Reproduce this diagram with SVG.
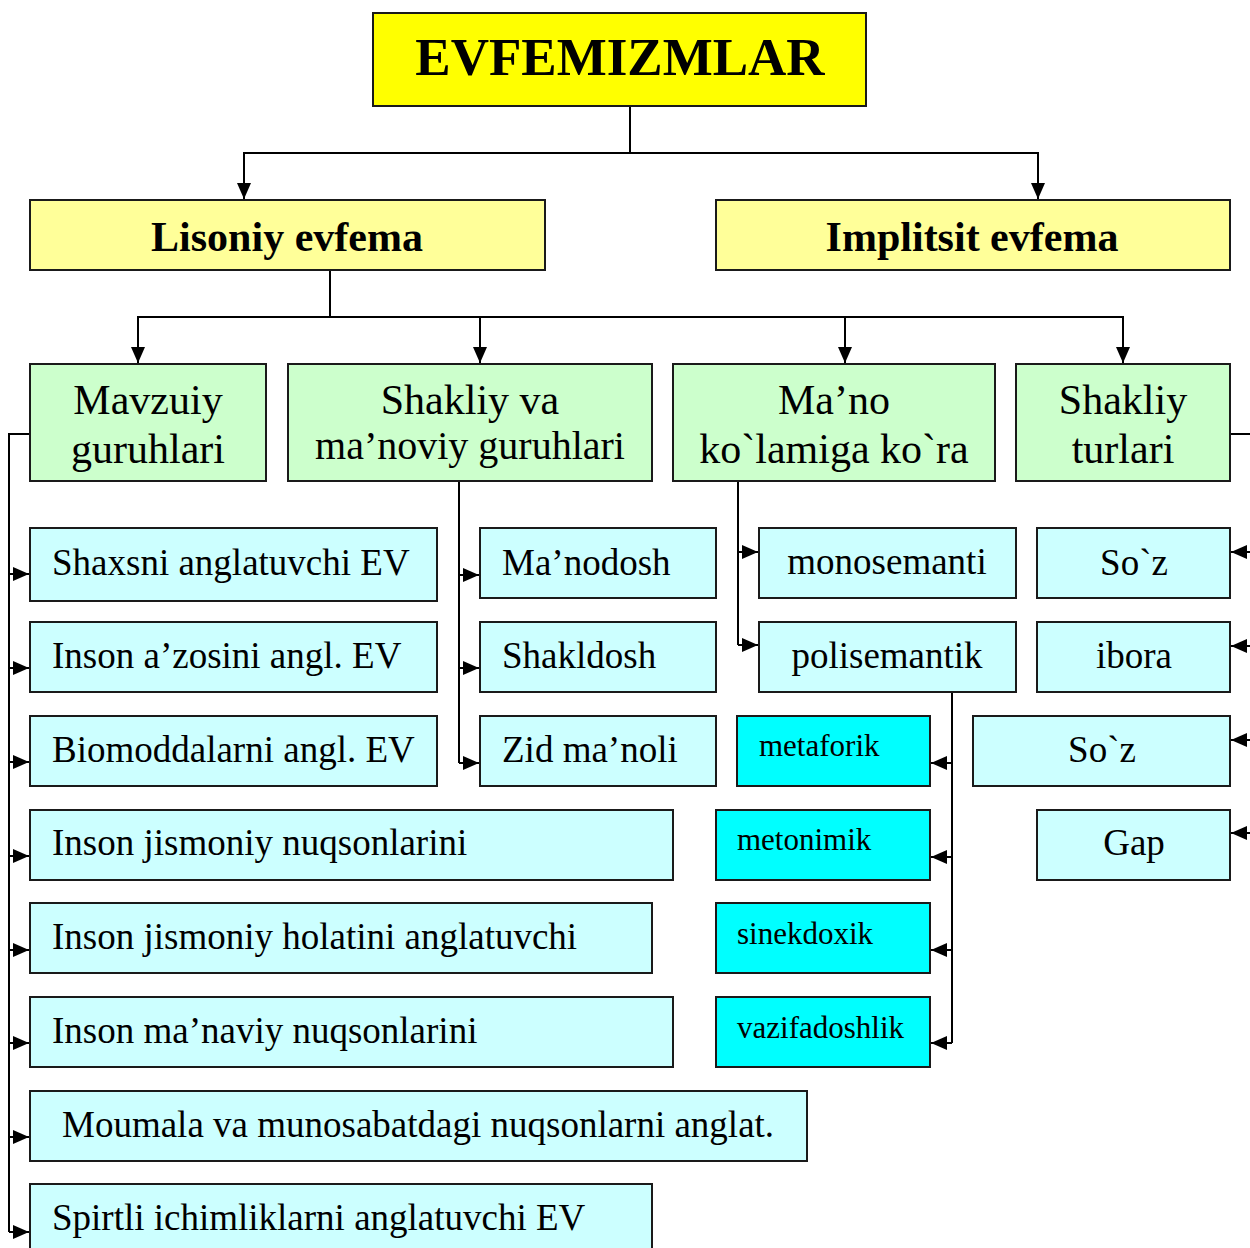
<svg xmlns="http://www.w3.org/2000/svg" width="1250" height="1248" viewBox="0 0 1250 1248">
<defs>
<marker id="ah" markerUnits="userSpaceOnUse" markerWidth="17" markerHeight="15" refX="16" refY="7.5" orient="auto">
<path d="M0,0.5 L16,7.5 L0,14.5 z" fill="#000"/>
</marker>
<style>
.b{stroke:#1a1a1a;stroke-width:2}
.y1{fill:#FFFF00}
.y2{fill:#FFFF99}
.g{fill:#CCFFCC}
.c{fill:#CCFFFF}
.d{fill:#00FFFF}
text{font-family:"Liberation Serif","Times New Roman",serif;fill:#000}
.tb{font-weight:bold}
.t0{font-size:53px;text-anchor:middle}
.t1{font-size:42px;text-anchor:middle}
.t2{font-size:42px;text-anchor:middle}
.t3{font-size:37px}
.t3m{font-size:37px;text-anchor:middle}
.t4{font-size:31px}
#conn path{fill:none;stroke:#000;stroke-width:2}
#conn .a{marker-end:url(#ah)}
</style>
</defs>
<rect x="0" y="0" width="1250" height="1248" fill="#ffffff"/>

<g id="conn">
<path d="M630,106 V153"/>
<path class="a" d="M630,153 H244 V199"/>
<path class="a" d="M630,153 H1038 V199"/>
<path d="M330,270 V317"/>
<path class="a" d="M330,317 H138 V363"/>
<path class="a" d="M330,317 H480 V363"/>
<path class="a" d="M330,317 H845 V363"/>
<path class="a" d="M845,317 H1123 V363"/>
<path d="M30,434 H9 V1232"/>
<path class="a" d="M9,574 H29"/>
<path class="a" d="M9,668 H29"/>
<path class="a" d="M9,762 H29"/>
<path class="a" d="M9,856 H29"/>
<path class="a" d="M9,950 H29"/>
<path class="a" d="M9,1043 H29"/>
<path class="a" d="M9,1137 H29"/>
<path class="a" d="M9,1232 H29"/>
<path d="M459,481 V763"/>
<path class="a" d="M459,575 H479"/>
<path class="a" d="M459,668 H479"/>
<path class="a" d="M459,763 H479"/>
<path d="M738,481 V645"/>
<path class="a" d="M738,552 H758"/>
<path class="a" d="M738,645 H758"/>
<path d="M952,692 V1043"/>
<path class="a" d="M952,763 H931"/>
<path class="a" d="M952,857 H931"/>
<path class="a" d="M952,950 H931"/>
<path class="a" d="M952,1043 H931"/>
<path d="M1230,434 H1250"/>
<path class="a" d="M1252,552 H1231"/>
<path class="a" d="M1252,646 H1231"/>
<path class="a" d="M1252,740 H1231"/>
<path class="a" d="M1252,833 H1231"/>
</g>

<g id="n-evfemizmlar"><rect class="b y1" x="373" y="13" width="493" height="93"/><text class="tb t0" x="620" y="75">EVFEMIZMLAR</text></g>
<g id="n-lisoniy"><rect class="b y2" x="30" y="200" width="515" height="70"/><text class="tb t1" x="287" y="251">Lisoniy evfema</text></g>
<g id="n-implitsit"><rect class="b y2" x="716" y="200" width="514" height="70"/><text class="tb t1" x="972" y="251">Implitsit evfema</text></g>

<g id="n-mavzuiy"><rect class="b g" x="30" y="364" width="236" height="117"/><text class="t2" x="148" y="414">Mavzuiy</text><text class="t2" x="148" y="463">guruhlari</text></g>
<g id="n-shakliyva"><rect class="b g" x="288" y="364" width="364" height="117"/><text class="t2" x="470" y="414">Shakliy va</text><text class="t2" x="470" y="459" style="font-size:40px">ma’noviy guruhlari</text></g>
<g id="n-mano"><rect class="b g" x="673" y="364" width="322" height="117"/><text class="t2" x="834" y="414">Ma’no</text><text class="t2" x="834" y="463">ko`lamiga ko`ra</text></g>
<g id="n-shakliyturlari"><rect class="b g" x="1016" y="364" width="214" height="117"/><text class="t2" x="1123" y="414">Shakliy</text><text class="t2" x="1123" y="463">turlari</text></g>

<g id="n-shaxsni"><rect class="b c" x="30" y="528" width="407" height="73"/><text class="t3" x="52" y="575">Shaxsni anglatuvchi EV</text></g>
<g id="n-azosini"><rect class="b c" x="30" y="622" width="407" height="70"/><text class="t3" x="52" y="668">Inson a’zosini angl. EV</text></g>
<g id="n-biomodda"><rect class="b c" x="30" y="716" width="407" height="70"/><text class="t3" x="52" y="762">Biomoddalarni angl. EV</text></g>
<g id="n-jismnuqson"><rect class="b c" x="30" y="810" width="643" height="70"/><text class="t3" x="52" y="855">Inson jismoniy nuqsonlarini</text></g>
<g id="n-jismholat"><rect class="b c" x="30" y="903" width="622" height="70"/><text class="t3" x="52" y="949">Inson jismoniy holatini anglatuvchi</text></g>
<g id="n-manaviy"><rect class="b c" x="30" y="997" width="643" height="70"/><text class="t3" x="52" y="1043">Inson ma’naviy nuqsonlarini</text></g>
<g id="n-moumala"><rect class="b c" x="30" y="1091" width="777" height="70"/><text class="t3" x="62" y="1137">Moumala va munosabatdagi nuqsonlarni anglat.</text></g>
<g id="n-spirtli"><rect class="b c" x="30" y="1184" width="622" height="80"/><text class="t3" x="52" y="1230">Spirtli ichimliklarni anglatuvchi EV</text></g>

<g id="n-manodosh"><rect class="b c" x="480" y="528" width="236" height="70"/><text class="t3" x="502" y="575">Ma’nodosh</text></g>
<g id="n-shakldosh"><rect class="b c" x="480" y="622" width="236" height="70"/><text class="t3" x="502" y="668">Shakldosh</text></g>
<g id="n-zid"><rect class="b c" x="480" y="716" width="236" height="70"/><text class="t3" x="502" y="762">Zid ma’noli</text></g>

<g id="n-monosemanti"><rect class="b c" x="759" y="528" width="257" height="70"/><text class="t3m" x="887" y="574">monosemanti</text></g>
<g id="n-polisemantik"><rect class="b c" x="759" y="622" width="257" height="70"/><text class="t3m" x="887" y="668">polisemantik</text></g>

<g id="n-metaforik"><rect class="b d" x="737" y="716" width="193" height="70"/><text class="t4" x="759" y="756">metaforik</text></g>
<g id="n-metonimik"><rect class="b d" x="716" y="810" width="214" height="70"/><text class="t4" x="737" y="850">metonimik</text></g>
<g id="n-sinekdoxik"><rect class="b d" x="716" y="903" width="214" height="70"/><text class="t4" x="737" y="944">sinekdoxik</text></g>
<g id="n-vazifadoshlik"><rect class="b d" x="716" y="997" width="214" height="70"/><text class="t4" x="737" y="1038">vazifadoshlik</text></g>

<g id="n-soz1"><rect class="b c" x="1037" y="528" width="193" height="70"/><text class="t3m" x="1134" y="575">So`z</text></g>
<g id="n-ibora"><rect class="b c" x="1037" y="622" width="193" height="70"/><text class="t3m" x="1134" y="668">ibora</text></g>
<g id="n-soz2"><rect class="b c" x="973" y="716" width="257" height="70"/><text class="t3m" x="1102" y="762">So`z</text></g>
<g id="n-gap"><rect class="b c" x="1037" y="810" width="193" height="70"/><text class="t3m" x="1134" y="855">Gap</text></g>
</svg>
